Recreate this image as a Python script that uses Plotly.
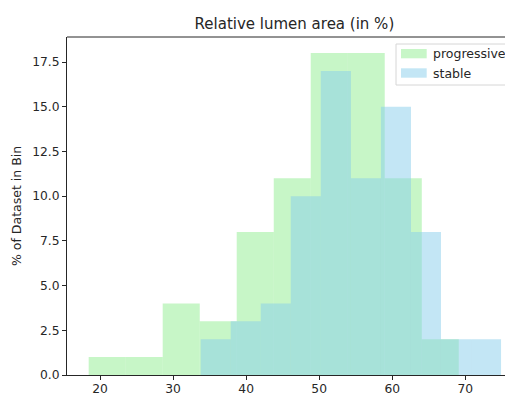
import numpy as np
import plotly.graph_objects as go

# ---- data ----
title_text = "Relative lumen area (in %)"
y_label = "% of Dataset in Bin"
series_names = ["progressive", "stable"]

progressive_edges = [18.45, 23.52, 28.58, 33.65, 38.71, 43.78, 48.84, 53.91, 58.97, 64.04, 69.10]
progressive_pct = [1, 1, 4, 3, 8, 11, 18, 18, 11, 2]

stable_edges = [33.78, 37.89, 42.00, 46.11, 50.22, 54.34, 58.45, 62.56, 66.67, 70.78, 74.89]
stable_pct = [2, 3, 4, 10, 17, 11, 15, 8, 2, 2]

x_ticks = [20, 30, 40, 50, 60, 70]
y_ticks = [0, 2.5, 5, 7.5, 10, 12.5, 15, 17.5]

colors = ["rgba(144,238,144,0.5)", "rgba(135,206,235,0.5)"]

# ---- layout geometry (page body has an 8px margin) ----
OFF = 8
W, H = 497, 388
L, T, B = 59, 29, 21
plot_w = W - L
plot_h = H - T - B
FONT = "DejaVu Sans"
INK = "#262626"
PX_PER_UNIT = 7.306
X_MIN = 15.48


def px_x(sx):
    return (sx - OFF - L) / plot_w


def px_y(sy):
    return (H - B - (sy - OFF)) / plot_h


fig = go.Figure()
for name, edges, vals, col in [
    (series_names[0], progressive_edges, progressive_pct, colors[0]),
    (series_names[1], stable_edges, stable_pct, colors[1]),
]:
    e = np.array(edges)
    centers = (e[:-1] + e[1:]) / 2
    widths = np.diff(e)
    fig.add_trace(go.Bar(
        x=centers, y=vals, width=widths, name=name,
        marker=dict(color=col, line=dict(width=0)),
        showlegend=False,
    ))

fig.update_layout(
    width=W, height=H,
    margin=dict(l=L, r=0, t=T, b=B, autoexpand=False),
    barmode="overlay",
    plot_bgcolor="white", paper_bgcolor="white",
    font=dict(family=FONT, size=12.5, color=INK),
    title=dict(text=title_text, x=px_x(294.4), xref="paper", xanchor="center",
               y=1 - (24 - OFF) / H, yref="container", yanchor="middle",
               font=dict(size=15, family=FONT, color=INK)),
    xaxis=dict(range=[X_MIN, X_MIN + plot_w / PX_PER_UNIT], tickvals=x_ticks,
               ticks="outside", ticklen=4, ticklabelstandoff=-2,
               tickcolor=INK, showline=True, linecolor=INK, linewidth=1,
               showgrid=False, zeroline=False, tickfont=dict(size=12.3)),
    yaxis=dict(range=[0, 18.9], tickvals=y_ticks, tickformat=".1f", ticks="outside",
               ticklen=4, tickcolor=INK, showline=True, linecolor=INK,
               linewidth=1, showgrid=False, zeroline=False, tickfont=dict(size=12.3)),
)

# top spine
fig.add_shape(type="line", xref="paper", yref="paper", x0=0, x1=1, y0=1, y1=1,
              line=dict(color=INK, width=1))

# y-axis label
fig.add_annotation(text=y_label, xref="paper", yref="paper", x=px_x(16), y=px_y(206),
                   textangle=-90, showarrow=False, xanchor="center", yanchor="middle",
                   font=dict(size=12.5, family=FONT, color=INK))

# legend box
fig.add_shape(type="rect", xref="paper", yref="paper",
              x0=px_x(396), x1=px_x(506), y0=px_y(85), y1=px_y(44),
              line=dict(color="#d6d6d6", width=1), fillcolor="rgba(255,255,255,0.8)")
rows = [(49, 58.3), (68.3, 77.7)]
for (ya, yb), name, col in zip(rows, series_names, colors):
    fig.add_shape(type="rect", xref="paper", yref="paper",
                  x0=px_x(401), x1=px_x(426.7), y0=px_y(yb), y1=px_y(ya),
                  line=dict(width=0), fillcolor=col)
    fig.add_annotation(text=name, xref="paper", yref="paper", x=px_x(431), y=px_y((ya + yb) / 2),
                       showarrow=False, xanchor="left", yanchor="middle",
                       font=dict(size=12.5, family=FONT, color=INK))

fig.write_html("out.html")
